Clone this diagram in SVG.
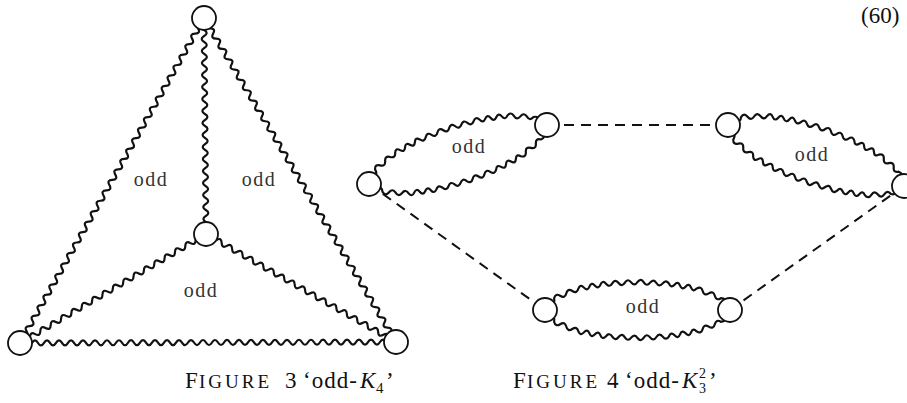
<svg xmlns="http://www.w3.org/2000/svg" width="907" height="403" viewBox="0 0 907 403">
<style>
.w{fill:none;stroke:#111;stroke-width:2.2;stroke-linejoin:round;stroke-linecap:round}
.d{fill:none;stroke:#111;stroke-width:2;stroke-dasharray:10 7}
.n{fill:#fff;stroke:#111;stroke-width:1.8}
.l{font-family:"Liberation Serif",serif;font-size:20px;letter-spacing:1.5px;fill:#333;text-anchor:middle}
.c{font-family:"Liberation Serif",serif;font-size:23px;fill:#111}
.sc{font-size:19px;letter-spacing:3px}
</style>
<defs>
<path id="wave62" class="w" d="M0,0 q3,-5 6,0 t6,0 t6,0 t6,0 t6,0 t6,0 t6,0 t6,0 t6,0 t6,0 t6,0 t6,0 t6,0 t6,0 t6,0 t6,0 t6,0 t6,0 t6,0 t6,0 t6,0 t6,0 t6,0 t6,0 t6,0 t6,0 t6,0 t6,0 t6,0 t6,0 t6,0 t6,0 t6,0 t6,0 t6,0 t6,0 t6,0 t6,0 t6,0 t6,0 t6,0 t6,0 t6,0 t6,0 t6,0 t6,0 t6,0 t6,0 t6,0 t6,0 t6,0 t6,0 t6,0 t6,0 t6,0 t6,0 t6,0 t6,0 t6,0 t6,0 t6,0 t6,0"/>
<path id="wave36" class="w" d="M0,0 q3,-5 6,0 t6,0 t6,0 t6,0 t6,0 t6,0 t6,0 t6,0 t6,0 t6,0 t6,0 t6,0 t6,0 t6,0 t6,0 t6,0 t6,0 t6,0 t6,0 t6,0 t6,0 t6,0 t6,0 t6,0 t6,0 t6,0 t6,0 t6,0 t6,0 t6,0 t6,0 t6,0 t6,0 t6,0 t6,0 t6,0"/>
<path id="arc" class="w" d="M-92,0 q-1.49,-5.6 4.3,-5.9 t4.3,-5.9 q1.39,-5.39 6.075,-2.4 t6.075,-2.4 t6.075,-2.4 t6.075,-2.4 q1.97,-4.92 5.52,-0.98 t5.52,-0.98 t5.52,-0.98 t5.52,-0.98 t5.52,-0.98 q3.39,4.32 6.3,-0.34 t6.3,-0.34 t6.3,-0.34 t6.3,-0.34 t6.3,-0.34 q3.39,-4.32 6.3,0.34 t6.3,0.34 t6.3,0.34 t6.3,0.34 t6.3,0.34 q1.97,4.92 5.52,0.98 t5.52,0.98 t5.52,0.98 t5.52,0.98 t5.52,0.98 q4.69,-2.99 6.075,2.4 t6.075,2.4 t6.075,2.4 t6.075,2.4 q5.79,0.3 4.3,5.9 t4.3,5.9"/>
<g id="lens"><use href="#arc"/><use href="#arc" transform="scale(1,-1)"/></g>
</defs>

<g id="connectors">
  <!-- Figure 3 -->
  <use href="#wave62" transform="translate(204,18) rotate(119.52)"/>
  <use href="#wave62" transform="translate(204,18) rotate(59.35)"/>
  <use href="#wave62" transform="translate(20,343) rotate(-0.15)"/>
  <use href="#wave36" transform="translate(204,18) rotate(89.47)"/>
  <use href="#wave36" transform="translate(206,234) rotate(149.63)"/>
  <use href="#wave36" transform="translate(206,234) rotate(29.62)"/>
  <!-- Figure 4 -->
  <line class="d" x1="547" y1="125" x2="728" y2="125"/>
  <line class="d" x1="369" y1="184" x2="545" y2="310"/>
  <line class="d" x1="904" y1="186" x2="730" y2="310"/>
  <use href="#lens" transform="translate(458,154.5) rotate(-18.34)"/>
  <use href="#lens" transform="translate(816,155.5) rotate(19.11)"/>
  <use href="#lens" transform="translate(637.5,310)"/>
</g>

<g id="fig3-top"><circle class="n" cx="204" cy="18" r="12"/></g>
<g id="fig3-center"><circle class="n" cx="206" cy="234" r="12"/></g>
<g id="fig3-left"><circle class="n" cx="20" cy="343" r="12"/></g>
<g id="fig3-right"><circle class="n" cx="396" cy="342" r="12"/></g>

<g id="fig4-a"><circle class="n" cx="369" cy="184" r="12"/></g>
<g id="fig4-b"><circle class="n" cx="547" cy="125" r="12"/></g>
<g id="fig4-c"><circle class="n" cx="728" cy="125" r="12"/></g>
<g id="fig4-d"><circle class="n" cx="904" cy="186" r="12"/></g>
<g id="fig4-e"><circle class="n" cx="545" cy="310" r="12"/></g>
<g id="fig4-f"><circle class="n" cx="730" cy="310" r="12"/></g>

<g id="labels">
  <text class="l" x="151" y="186">odd</text>
  <text class="l" x="259" y="186">odd</text>
  <text class="l" x="201" y="297">odd</text>
  <text class="l" x="469" y="153">odd</text>
  <text class="l" x="812" y="161">odd</text>
  <text class="l" x="643" y="313">odd</text>
</g>

<g id="captions">
  <text class="c" y="388"><tspan x="185">F</tspan><tspan x="199" class="sc">IGURE</tspan><tspan x="285">3</tspan><tspan x="303" letter-spacing="1">‘odd-</tspan><tspan x="360" font-style="italic">K</tspan><tspan x="376" y="393" font-size="15">4</tspan><tspan x="386" y="388">’</tspan></text>
  <text class="c" y="388"><tspan x="513">F</tspan><tspan x="527" class="sc">IGURE</tspan><tspan x="607">4</tspan><tspan x="625" letter-spacing="1">‘odd-</tspan><tspan x="682" font-style="italic">K</tspan><tspan x="699" y="378" font-size="14">2</tspan><tspan x="699" y="393" font-size="14">3</tspan><tspan x="709" y="388">’</tspan></text>
  <text class="c" x="861" y="23" font-size="24">(60)</text>
</g>
</svg>
